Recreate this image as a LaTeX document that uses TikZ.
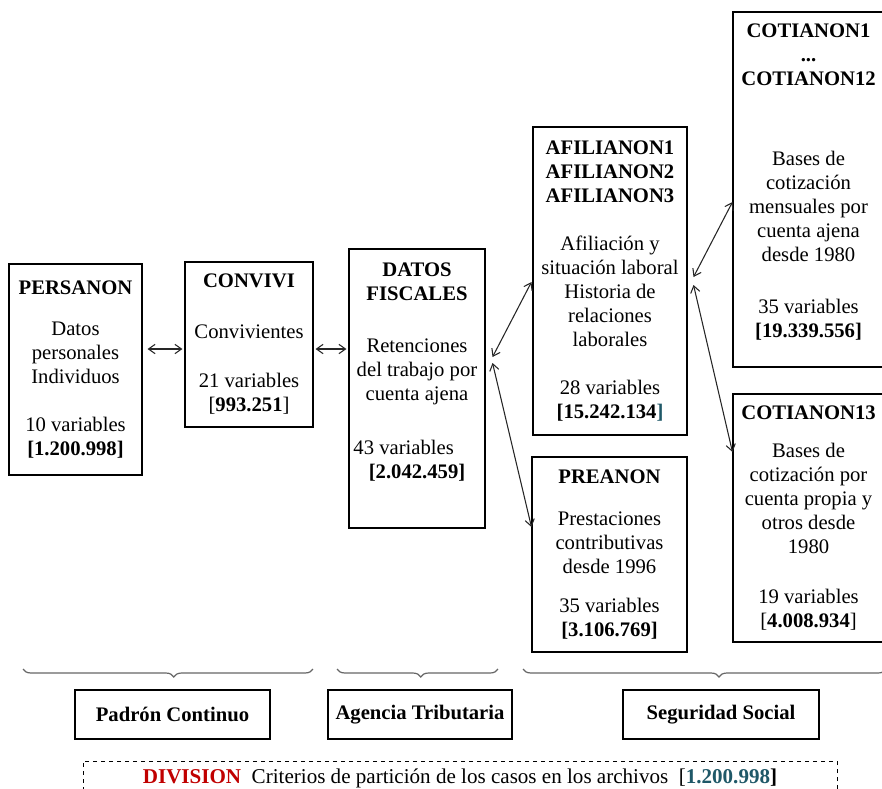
\documentclass[tikz,border=0pt]{standalone}
\usepackage{fontspec}
\setmainfont{Liberation Serif}
\usepackage{xcolor}
\usetikzlibrary{calc,arrows.meta,decorations.pathreplacing}
\definecolor{divred}{RGB}{192,0,0}
\definecolor{numteal}{RGB}{31,88,104}

\begin{document}
\begin{tikzpicture}[x=0.75pt,y=-0.75pt,
    box/.style={draw, line width=0.8pt, align=center, inner sep=0pt,
      font=\fontsize{15.5}{18}\selectfont},
    sz/.style 2 args={minimum width=#1*0.75pt, minimum height=#2*0.75pt},
    link/.style={{Straight Barb[length=5pt,width=7pt]}-{Straight Barb[length=5pt,width=7pt]}, line width=0.8pt, black!85},
    brc/.style={decorate, decoration={brace, mirror, amplitude=6pt, aspect=#1}, line width=0.9pt, black!60}]
\useasboundingbox (0,0) rectangle (882,789);

% archivos
\node[box, sz={133}{211}] (persanon) at (75.5,369.5)
  {\textbf{PERSANON}\\[12.75pt] Datos\\ personales\\ Individuos\\[18pt] 10 variables\\ \textbf{{[}1.200.998{]}}};
\node[box, sz={128}{165}] (convivi) at (249,344.5)
  {\textbf{CONVIVI}\\[20pt] Convivientes\\[19pt] 21 variables\\ {[}\textbf{993.251}{]}};
\node[box, sz={136}{279}] (datos) at (417,388.5)
  {\textbf{DATOS}\\ \textbf{FISCALES}\\[21pt] Retenciones\\ del trabajo por\\ cuenta ajena\\[22pt] 43 variables\rule{20pt}{0pt}\\ \textbf{{[}2.042.459{]}}\\[3.5pt]\strut};
\node[box, sz={154}{308}] (afil) at (610,281)
  {\textbf{AFILIANON1}\\ \textbf{AFILIANON2}\\ \textbf{AFILIANON3}\\[18pt] Afiliación y\\ situación laboral\\ Historia de\\ relaciones\\ laborales\\[18pt] 28 variables\\ \textbf{{[}15.242.134\textcolor{numteal}{]}}};
\node[box, sz={155}{195}] (preanon) at (609.5,554.5)
  {\textbf{PREANON}\\[14pt] Prestaciones\\ contributivas\\ desde 1996\\[11pt] 35 variables\\ \textbf{{[}3.106.769{]}}};
\node[box, sz={151}{355}] (cot1) at (808.5,189.5)
  {\textbf{COTIANON1}\\ \textbf{...}\\ \textbf{COTIANON12}\\[42pt] Bases de\\ cotización\\ mensuales por\\ cuenta ajena\\ desde 1980\\[21pt] 35 variables\\ \textbf{{[}19.339.556{]}}\\[-10.5pt]\strut};
\node[box, sz={151}{248}] (cot13) at (808.5,518)
  {\textbf{COTIANON13}\\[11pt] Bases de\\ cotización por\\ cuenta propia y\\ otros desde\\ 1980\\[19.5pt] 19 variables\\ {[}\textbf{4.008.934}{]}};

% enlaces
\draw[link] ($(persanon.east |- convivi.west)+(5,4.5)$) -- ($(convivi.west)+(-2,4.5)$);
\draw[link] ($(convivi.east)+(2,4.5)$) -- ($(datos.west |- convivi.east)+(-2,4.5)$);
\draw[link] ($(datos.east)+(7,-31.5)$) -- ($(afil.west)+(-1,1)$);
\draw[link] ($(datos.east)+(7,-25.5)$) -- ($(preanon.west)+(0,-27.5)$);
\draw[link] ($(afil.east)+(6,-4)$) -- ($(cot1.west)+(0,12.5)$);
\draw[link] ($(afil.east)+(6,4)$) -- ($(cot13.west)+(0,-66)$);

% fuentes
\draw[brc=0.52] (23,669) -- (313,669);
\draw[brc=0.52] (337,669) -- (498,669);
\draw[brc=0.54] (523,669) -- (886,669);
\node[box, sz={195}{49}] (padron) at (172.5,714.5) {\textbf{Padrón Continuo}};
\node[box, sz={184}{49}] (agencia) at (420,714.5) {\textbf{Agencia Tributaria}};
\node[box, sz={196}{49}] (seguridad) at (721,714.5) {\textbf{Seguridad Social}};

\node[box, dashed, line width=0.7pt, sz={754}{34}, font=\fontsize{15.8}{18}\selectfont] (division) at (460,778)
  {\textcolor{divred}{\textbf{DIVISION}}\enspace Criterios de partición de los casos en los archivos\enspace {[}\textbf{\textcolor{numteal}{1.200.998}]}};
\end{tikzpicture}
\end{document}
